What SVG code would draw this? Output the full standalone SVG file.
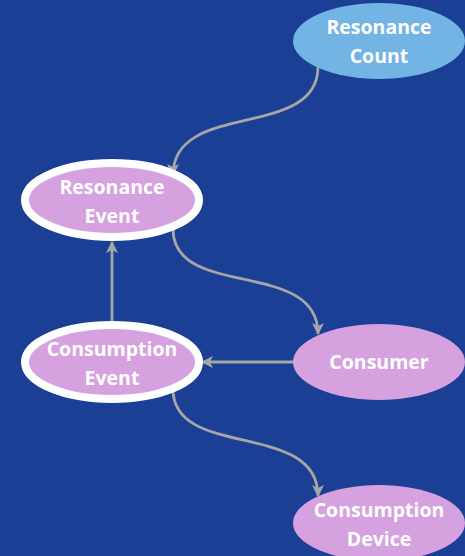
<svg xmlns="http://www.w3.org/2000/svg" width="465" height="556" viewBox="0 0 465 556">
<style>
.bg{fill:#1b3f94}
.n{fill:#d6a1df}
.nb{fill:#d6a1df;stroke:#ffffff;stroke-width:8}
.nc{fill:#72b4e4}
.t{font-family:"Open Sans","Liberation Sans",sans-serif;font-weight:700;font-size:19.5px;fill:#ffffff;text-anchor:middle}
.c{fill:none;stroke:#a6a6a6;stroke-width:2.8}
</style>
<defs>
<marker id="ah" viewBox="0 0 12 12" refX="11" refY="6" markerWidth="12" markerHeight="12" markerUnits="userSpaceOnUse" orient="auto">
<path d="M0,0 L12,6 L0,12 L3,6 Z" fill="#a6a6a6"/>
</marker>
</defs>
<rect class="bg" x="0" y="0" width="465" height="556"/>
<g id="connectors">
<path class="c" d="M318,67 C318,140 173,100 173,175" marker-end="url(#ah)"/>
<path class="c" d="M173,229 C173,300 318,258 318,334" marker-end="url(#ah)"/>
<path class="c" d="M112,323 L112,242" marker-end="url(#ah)"/>
<path class="c" d="M294,362 L202,362" marker-end="url(#ah)"/>
<path class="c" d="M173,389 C173,460 318,420 318,496" marker-end="url(#ah)"/>
</g>
<g id="resonance-count">
<ellipse class="nc" cx="379" cy="41" rx="86" ry="38"/>
<text class="t" x="379" y="34">Resonance</text>
<text class="t" x="379" y="63">Count</text>
</g>
<g id="resonance-event">
<ellipse class="nb" cx="112" cy="200" rx="87" ry="37"/>
<text class="t" x="112" y="194">Resonance</text>
<text class="t" x="112" y="223">Event</text>
</g>
<g id="consumption-event">
<ellipse class="nb" cx="112" cy="362" rx="87" ry="37"/>
<text class="t" x="112" y="356">Consumption</text>
<text class="t" x="112" y="385">Event</text>
</g>
<g id="consumer">
<ellipse class="n" cx="379" cy="362" rx="86" ry="38"/>
<text class="t" x="379" y="369">Consumer</text>
</g>
<g id="consumption-device">
<ellipse class="n" cx="379" cy="523" rx="86" ry="38"/>
<text class="t" x="379" y="517">Consumption</text>
<text class="t" x="379" y="546">Device</text>
</g>
</svg>
